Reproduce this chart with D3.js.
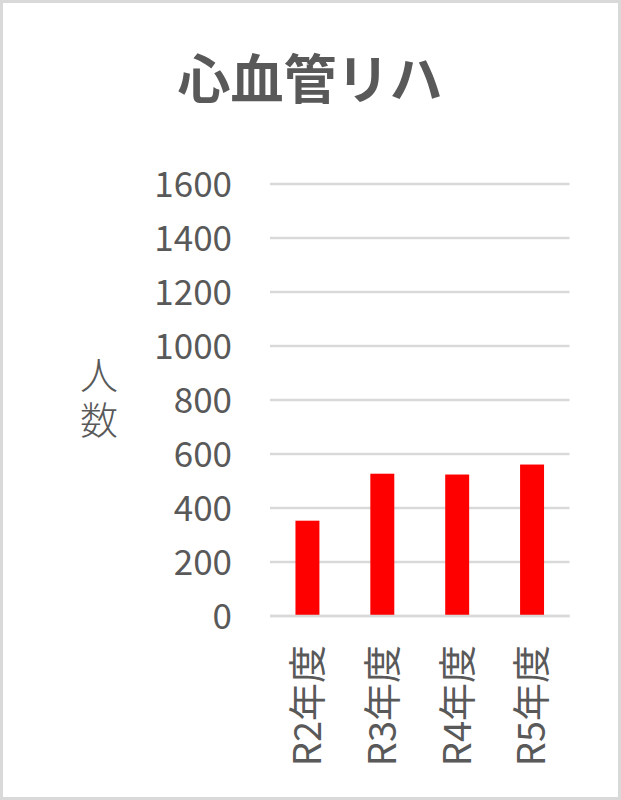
<!DOCTYPE html>
<html>
<head>
<meta charset="utf-8">
<script src="https://d3js.org/d3.v7.min.js"></script>
<style>
  body { margin: 0; background: #fff; }
  text { font-family: "Noto Sans CJK JP", "Noto Sans", sans-serif; fill: #595959; }
</style>
</head>
<body>
<div id="chart"></div>
<script>
// data
var years = ['R2年度', 'R3年度', 'R4年度', 'R5年度'];
var counts = [353, 527, 524, 561];
var yTicks = [0, 200, 400, 600, 800, 1000, 1200, 1400, 1600];
var title = '心血管リハ';
var yLabel = '人数';

var W = 621, H = 800;
var svg = d3.select('#chart').append('svg')
    .attr('width', W)
    .attr('height', H);

// outer frame
svg.append('rect')
    .attr('x', 1.5).attr('y', 1.5)
    .attr('width', W - 3).attr('height', H - 3)
    .attr('fill', '#fff')
    .attr('stroke', '#d9d9d9')
    .attr('stroke-width', 3);

var x = d3.scaleBand()
    .domain(years)
    .range([270, 569.5])
    .paddingInner(0.68)
    .paddingOuter(0.34);

var y = d3.scaleLinear()
    .domain([0, 1600])
    .range([616, 184]);

// gridlines
svg.append('g').selectAll('line')
    .data(yTicks)
    .enter()
    .append('line')
    .attr('x1', 270)
    .attr('x2', 569.5)
    .attr('y1', function(d) { return y(d); })
    .attr('y2', function(d) { return y(d); })
    .attr('stroke', '#d9d9d9')
    .attr('stroke-width', 2.5);

// y axis labels
var yAxis = d3.axisLeft(y).tickValues(yTicks).tickFormat(d3.format('d')).tickSize(0).tickPadding(0);
var gy = svg.append('g')
    .attr('transform', 'translate(232,0)')
    .call(yAxis);
gy.select('.domain').remove();
gy.selectAll('text')
    .style('font-size', '35px')
    .attr('fill', '#595959')
    .attr('dy', '0.35em')
    .style('font-family', '"Noto Sans CJK JP", sans-serif');

// bars
svg.append('g').selectAll('rect')
    .data(counts)
    .enter()
    .append('rect')
    .attr('x', function(d, i) { return x(years[i]); })
    .attr('y', function(d) { return y(d); })
    .attr('width', x.bandwidth())
    .attr('height', function(d) { return y(0) - y(d); })
    .attr('fill', '#ff0000');

// baseline
svg.append('line')
    .attr('x1', 270).attr('x2', 569.5)
    .attr('y1', y(0)).attr('y2', y(0))
    .attr('stroke', '#d9d9d9')
    .attr('stroke-width', 2.5);

// x labels, rotated
svg.append('g').selectAll('text')
    .data(years)
    .enter()
    .append('text')
    .attr('transform', function(d) {
        return 'translate(' + (x(d) + x.bandwidth() / 2) + ',645) rotate(-90)';
    })
    .attr('text-anchor', 'end')
    .attr('dy', '0.35em')
    .style('font-size', '38px')
    .text(function(d) { return d; });

// y axis title, written vertically
svg.append('text')
    .attr('x', 99)
    .attr('y', 356)
    .style('writing-mode', 'vertical-rl')
    .style('letter-spacing', '7px')
    .style('font-size', '38px')
    .style('font-weight', 300)
    .text(yLabel);

// chart title
svg.append('text')
    .attr('x', 310)
    .attr('y', 80)
    .attr('text-anchor', 'middle')
    .attr('dy', '0.35em')
    .style('font-size', '53px')
    .style('font-weight', 'bold')
    .text(title);
</script>
</body>
</html>
